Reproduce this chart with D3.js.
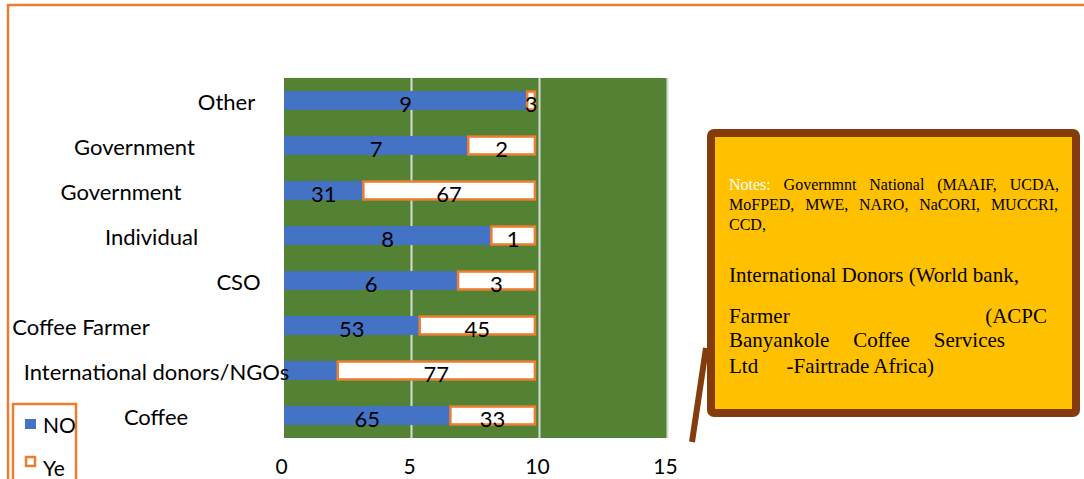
<!DOCTYPE html>
<html>
<head>
<meta charset="utf-8">
<script src="https://cdn.jsdelivr.net/npm/d3@7"></script>
<style>
  html, body { margin: 0; padding: 0; background: #fff; overflow: hidden; }
  svg { display: block; }
</style>
</head>
<body>
<svg id="chart" width="1084" height="479"></svg>
<script>
// ---- data ----
const categories = ["Other", "Government", "Government", "Individual", "CSO",
                    "Coffee Farmer", "International donors/NGOs", "Coffee"];
// share of respondents (%) answering NO / Yes per source
const noShare = [95, 72, 31, 81, 68, 53, 21, 65];
const yeShare = [3, 26, 67, 17, 30, 45, 77, 33];
// data labels as printed on the bars
const noLabels = ["9", "7", "31", "8", "6", "53", "", "65"];
const yeLabels = ["3", "2", "67", "1", "3", "45", "77", "33"];
const xTicks = [0, 5, 10, 15];
const seriesNames = ["NO", "Ye"];

// note box text, one entry per printed line
const noteSmall = [
  ["Notes:", "Governmnt", "National", "(MAAIF,", "UCDA,"],
  ["MoFPED,", "MWE,", "NARO,", "NaCORI,", "MUCCRI,"],
  ["CCD,"]
];
const noteLarge = [
  ["International", "Donors", "(World", "bank,"],
  ["Farmer", "(ACPC"],
  ["Banyankole", "Coffee", "Services"],
  ["Ltd", "-Fairtrade Africa)"]
];

// ---- layout ----
const W = 1084, H = 479;
const plot = { left: 284, right: 668, top: 78, bottom: 438 };
const catLabelCenter = [226.5, 134.5, 121, 151.5, 238.5, 81, 156.5, 156];

const C = {
  blue: "#4472C4", green: "#548235", orange: "#ED7D31",
  grid: "#D9D9D9", brown: "#843C0C", gold: "#FFC000"
};
const sans = "Lato, 'Open Sans', sans-serif";
const serif = "'Liberation Serif', 'Times New Roman', serif";

const svg = d3.select("#chart");
svg.append("rect").attr("width", W).attr("height", H).attr("fill", "#fff");

// frame lines (top and left)
svg.append("path")
  .attr("d", `M8,${H} V5 H${W}`)
  .attr("fill", "none").attr("stroke", C.orange).attr("stroke-width", 2.5);

// ---- scales ----
const x = d3.scaleLinear().domain([0, 15]).range([plot.left, plot.right]);
const y = d3.scaleBand().domain(d3.range(categories.length))
  .range([plot.top, plot.bottom]).paddingInner(0.58).paddingOuter(0.29);
const toUnits = p => p / 10;   // axis runs in tens of percent

// plot background
svg.append("rect")
  .attr("x", plot.left).attr("y", plot.top)
  .attr("width", plot.right - plot.left).attr("height", plot.bottom - plot.top)
  .attr("fill", C.green);

// vertical gridlines
svg.append("g").selectAll("line").data(xTicks.filter(t => t > 0)).join("line")
  .attr("x1", d => x(d) - 0.5).attr("x2", d => x(d) - 0.5)
  .attr("y1", plot.top).attr("y2", plot.bottom)
  .attr("stroke", C.grid).attr("stroke-width", 2);

// bars
const rows = categories.map((c, i) => ({ i, c, no: noShare[i], ye: yeShare[i] }));
const bars = svg.append("g");
bars.selectAll("rect.no").data(rows).join("rect").attr("class", "no")
  .attr("x", x(0)).attr("y", d => y(d.i))
  .attr("width", d => x(toUnits(d.no)) - x(0)).attr("height", y.bandwidth())
  .attr("fill", C.blue);
bars.selectAll("rect.ye").data(rows).join("rect").attr("class", "ye")
  .attr("x", d => x(toUnits(d.no))).attr("y", d => y(d.i) + 0.5)
  .attr("width", d => x(toUnits(d.no + d.ye)) - x(toUnits(d.no)))
  .attr("height", y.bandwidth() - 1)
  .attr("fill", "#fff").attr("stroke", C.orange).attr("stroke-width", 2.5);

// data labels
const lab = svg.append("g").attr("font-family", sans).attr("font-size", 22)
  .attr("fill", "#000").attr("text-anchor", "middle");
lab.selectAll("text.no").data(rows).join("text").attr("class", "no")
  .attr("x", d => (x(0) + x(toUnits(d.no))) / 2)
  .attr("y", d => y(d.i) + y.bandwidth() / 2 + 11.5)
  .text(d => noLabels[d.i]);
lab.selectAll("text.ye").data(rows).join("text").attr("class", "ye")
  .attr("x", d => (x(toUnits(d.no)) + x(toUnits(d.no + d.ye))) / 2)
  .attr("y", d => y(d.i) + y.bandwidth() / 2 + 11.5)
  .text(d => yeLabels[d.i]);

// category labels
svg.append("g").attr("font-family", sans).attr("font-size", 22)
  .attr("fill", "#000").attr("text-anchor", "middle")
  .selectAll("text").data(rows).join("text")
  .attr("x", d => catLabelCenter[d.i])
  .attr("y", d => y(d.i) + y.bandwidth() / 2 + 9.5)
  .text(d => d.c);

// x axis
const xAxis = svg.append("g").attr("transform", `translate(0,${plot.bottom})`)
  .call(d3.axisBottom(x).tickValues(xTicks).tickSize(0).tickPadding(21)
        .tickFormat(d3.format("d")));
xAxis.select(".domain").remove();
xAxis.selectAll("text").attr("font-family", sans).attr("font-size", 21)
  .attr("fill", "#000").attr("dx", -3);

// legend
const lg = svg.append("g");
lg.append("rect").attr("x", 13).attr("y", 404).attr("width", 63).attr("height", 100)
  .attr("fill", "none").attr("stroke", C.orange).attr("stroke-width", 2.5);
lg.append("rect").attr("x", 25).attr("y", 419).attr("width", 11).attr("height", 10)
  .attr("fill", C.blue);
lg.append("rect").attr("x", 26).attr("y", 457).attr("width", 9).attr("height", 9)
  .attr("fill", "#fff").attr("stroke", C.orange).attr("stroke-width", 2.5);
lg.selectAll("text").data(seriesNames).join("text")
  .attr("x", 43).attr("y", (d, i) => i === 0 ? 433 : 476)
  .attr("font-family", sans).attr("font-size", 21).attr("fill", "#000")
  .text(d => d);

// note callout
const box = { x: 711, y: 133, w: 365, h: 280 };
svg.append("line")
  .attr("x1", 706).attr("y1", 348).attr("x2", 692).attr("y2", 442)
  .attr("stroke", C.brown).attr("stroke-width", 6);
svg.append("rect")
  .attr("x", box.x).attr("y", box.y).attr("width", box.w).attr("height", box.h)
  .attr("rx", 3).attr("fill", C.gold).attr("stroke", C.brown).attr("stroke-width", 8);

// writes one line of words, spreading them across `width` when given
function noteLine(words, x0, baseline, size, width) {
  const t = svg.append("g").attr("font-family", serif).attr("font-size", size);
  const nodes = words.map(w => t.append("text").attr("y", baseline)
    .attr("fill", w === "Notes:" ? "#fff" : "#000").text(w));
  const widths = nodes.map(n => n.node().getComputedTextLength());
  const spaceW = size * 0.25;
  let gap = spaceW;
  if (width && words.length > 1) {
    gap = (width - d3.sum(widths)) / (words.length - 1);
  }
  let cx = x0;
  nodes.forEach((n, i) => { n.attr("x", cx); cx += widths[i] + gap; });
}
const tx = 729;
noteLine(noteSmall[0], tx, 190, 16, 330);
noteLine(noteSmall[1], tx, 210, 16, 329);
noteLine(noteSmall[2], tx, 229.5, 16);
noteLine(noteLarge[0], tx, 281.5, 21);
noteLine(noteLarge[1], tx, 323, 21, 318);
noteLine(noteLarge[2], tx, 346.5, 21, 276);
noteLine(noteLarge[3], tx, 372.5, 21, 205);
</script>
</body>
</html>
